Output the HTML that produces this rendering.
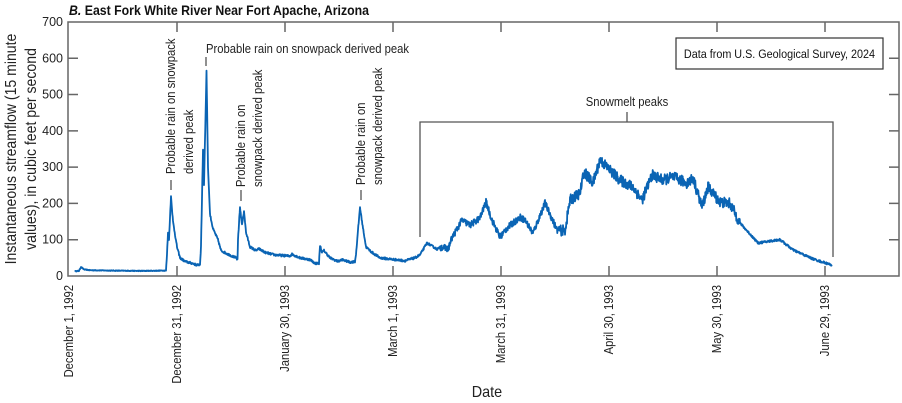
<!DOCTYPE html>
<html><head><meta charset="utf-8"><style>
body{margin:0;background:#fff}
svg{display:block;font-family:"Liberation Sans",sans-serif}
</style></head><body>
<svg id="s" width="902" height="403" viewBox="0 0 902 403" xmlns="http://www.w3.org/2000/svg">
<text x="69" y="15" font-size="14" font-weight="bold" fill="#111" transform="translate(69 0) scale(0.88 1) translate(-69 0)"><tspan font-style="italic">B.</tspan> East Fork White River Near Fort Apache, Arizona</text>
<g id="ax" stroke="#666" stroke-width="1.5" fill="none">
<rect x="68" y="22" width="831" height="254"/>
</g>
<g font-size="12.5" fill="#222" text-anchor="end" id="yl"></g>
<g font-size="12.5" fill="#222" id="xl"></g>
<g font-size="16" fill="#222" text-anchor="middle">
<text transform="translate(16 149) rotate(-90) scale(0.88 1)">Instantaneous streamflow (15 minute</text>
<text transform="translate(36 149) rotate(-90) scale(0.88 1)">values), in cubic feet per second</text>
<text x="487" y="397" transform="translate(487 0) scale(0.9 1) translate(-487 0)">Date</text>
</g>
<rect x="676" y="38" width="207" height="31" fill="#fff" stroke="#333" stroke-width="1.2"/>
<text x="779.5" y="58" font-size="12" text-anchor="middle" fill="#111" transform="translate(779.5 0) scale(0.9 1) translate(-779.5 0)">Data from U.S. Geological Survey, 2024</text>
<g stroke="#555" stroke-width="1.3" fill="none">
<path d="M420 237V122H833V257M627 122V112"/>
<path d="M171 180V190M206 57V66M241 190V201M361 190V200"/>
</g>
<g font-size="12.5" fill="#222">
<text x="627" y="106" text-anchor="middle" transform="translate(627 0) scale(0.9 1) translate(-627 0)">Snowmelt peaks</text>
<text x="206" y="53" transform="translate(206 0) scale(0.9 1) translate(-206 0)">Probable rain on snowpack derived peak</text>
<text transform="translate(175 174) rotate(-90) scale(0.9 1)">Probable rain on snowpack</text>
<text transform="translate(193 174) rotate(-90) scale(0.9 1)">derived peak</text>
<text transform="translate(245 187) rotate(-90) scale(0.9 1)">Probable rain on</text>
<text transform="translate(262 187) rotate(-90) scale(0.9 1)">snowpack derived peak</text>
<text transform="translate(365 185) rotate(-90) scale(0.9 1)">Probable rain on</text>
<text transform="translate(382 185) rotate(-90) scale(0.9 1)">snowpack derived peak</text>
</g>
<path id="line" fill="none" stroke="#0a64b4" stroke-width="1.8" stroke-linejoin="round"/>
</svg>
<script>
var NS="http://www.w3.org/2000/svg";
function Y(v){return 276-v*0.3629;}
var ax=document.getElementById('ax'),yl=document.getElementById('yl'),xl=document.getElementById('xl');
var d="";
for(var v=100;v<700;v+=100){d+="M68 "+Y(v)+"h10M899 "+Y(v)+"h-10";}
for(var v=0;v<=700;v+=100){var t=document.createElementNS(NS,'text');t.setAttribute('x',63);t.setAttribute('y',Y(v)+4);t.textContent=v;yl.appendChild(t);}
var labs=["December 1, 1992","December 31, 1992","January 30, 1993","March 1, 1993","March 31, 1993","April 30, 1993","May 30, 1993","June 29, 1993"];
for(var i=0;i<8;i++){var x=69+108*i;if(i>0)d+="M"+x+" 276v-10M"+x+" 22v10";
var t=document.createElementNS(NS,'text');t.setAttribute('transform','translate('+(x+4)+' 285) rotate(-90) scale(0.9 1)');t.setAttribute('text-anchor','end');t.textContent=labs[i];xl.appendChild(t);}
var p=document.createElementNS(NS,'path');p.setAttribute('d',d);ax.appendChild(p);
var k=[[75,13],[79,14],[81,25],[84,18],[90,16],[110,15],[140,14],[166,15],[167,60],[168,120],[169,100],[171,220],[173,150],[177,80],[180,50],[185,40],[192,35],[197,30],[200,32],[201,80],[203,350],[204,250],[206.5,565],[208,300],[210,170],[213,130],[218,100],[221,70],[228,60],[236,50],[237.5,45],[238,100],[240,190],[242,140],[244,180],[246,120],[250,80],[256,70],[259,75],[265,65],[275,58],[290,55],[292,60],[300,50],[310,45],[315,35],[319,35],[320,85],[322,65],[324,70],[330,50],[338,40],[342,45],[350,38],[355,40],[356,60],[360,190],[362,150],[366,80],[372,65],[380,50],[395,45],[405,42],[415,50],[420,58],[427,91],[437,74],[442,80],[448,74],[452,105],[462,154],[470,140],[480,160],[486,204],[492,154],[500,107],[507,132],[520,162],[525,154],[533,118],[545,201],[557,127],[565,125],[570,209],[580,228],[584,287],[593,256],[600,320],[610,292],[620,264],[633,245],[642,209],[652,278],[663,264],[673,273],[687,256],[693,270],[702,190],[708,245],[720,204],[730,200],[740,146],[758,91],[777,99],[780,100],[793,72],[813,47],[832,30]];
var s=12345;function r(){s=(s*16807)%2147483647;return s/2147483647-0.5;}
var pts=[];
for(var i=0;i<k.length-1;i++){var a=k[i],b=k[i+1];var n=Math.max(1,Math.round((b[0]-a[0])*3));
for(var j=0;j<n;j++){var f=j/n;var x=a[0]+(b[0]-a[0])*f;var v=a[1]+(b[1]-a[1])*f;
var amp=x>560&&x<740?30:(x>440&&x<560?18:(x>740?6:(x>170?6:2)));v+=r()*amp;pts.push(x.toFixed(1)+","+Y(Math.max(v,5)).toFixed(1));}}
pts.push(k[k.length-1][0]+","+Y(k[k.length-1][1]));
document.getElementById('line').setAttribute('d',"M"+pts.join("L"));
</script>
</body></html>
